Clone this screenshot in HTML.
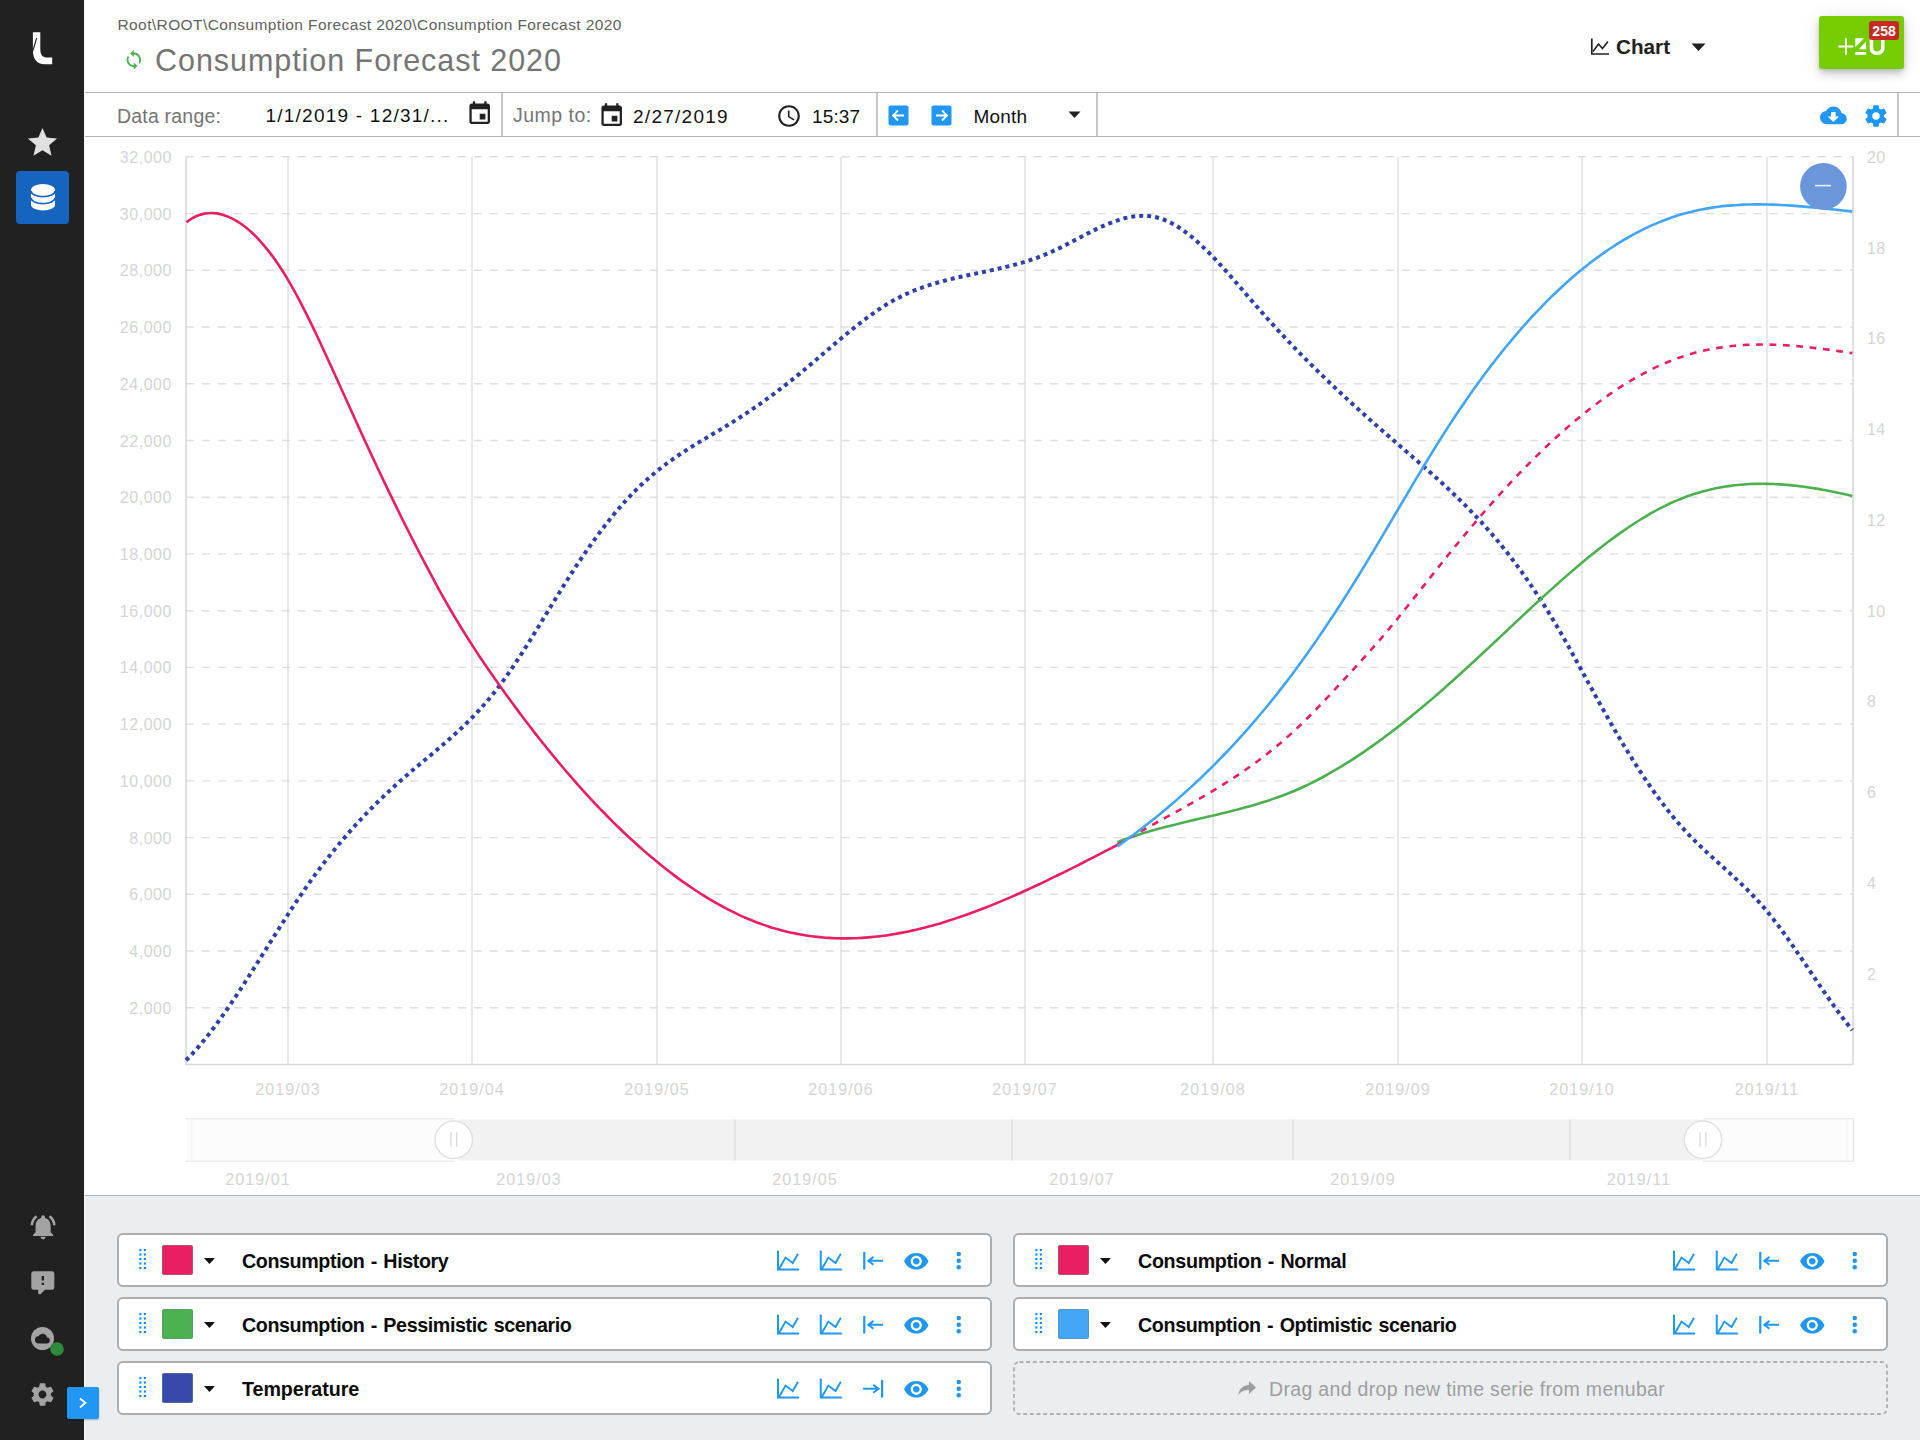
<!DOCTYPE html>
<html><head><meta charset="utf-8"><title>Consumption Forecast 2020</title>
<style>
*{box-sizing:border-box;margin:0;padding:0}
html,body{width:1920px;height:1440px;overflow:hidden;background:#fff;font-family:"Liberation Sans",sans-serif;}
.abs{position:absolute}
#side{position:absolute;left:0;top:0;width:84px;height:1440px;background:#212121}
#head{position:absolute;left:85px;top:0;width:1835px;height:93px;border-bottom:1px solid #b4b4b4;background:#fff}
#tool{position:absolute;left:85px;top:93px;width:1835px;height:44px;border-bottom:1px solid #b4b4b4;background:#fff}
#bottom{position:absolute;left:85px;top:1195px;width:1835px;height:245px;background:#eaeef1;border-top:1px solid #b2b2b2}
.t{position:absolute;white-space:nowrap;line-height:1}
.vsep{position:absolute;top:93px;width:2px;height:43px;background:#c8c8c8}
.leg{position:absolute;height:54px;width:875px;background:#fff;border:2px solid #adadad;border-radius:6px}
.lab{position:absolute;left:123px;top:16.7px;font-weight:bold;font-size:19.7px;color:#0a0a0a;white-space:nowrap;line-height:1;word-spacing:1.3px}
.sw{position:absolute;left:43px;top:9.7px;width:30.5px;height:30.5px;border:1px solid rgba(120,140,120,.45);border-radius:2px}
svg{position:absolute;overflow:visible}
</style></head><body>
<div id="side"></div>
<div class="abs" style="left:84px;top:0;width:1px;height:1440px;background:#f4f4f4"></div>
<svg style="left:0;top:0" width="84" height="80" viewBox="0 0 84 80"><path d="M32.900 32.200H40.300V49C40.300 54.500 42.300 57.400 46.500 57.400H52.200V64.300H44.500C37 64.300 32.900 59 32.900 50.500Z" fill="#fff"/><path d="M36.700 38L32.600 51.500" stroke="#212121" stroke-width="1.100"/></svg>
<svg style="left:25.100px;top:124.600px" width="35" height="35" viewBox="0 0 24 24"><path d="M12 17.270L18.180 21l-1.640-7.030L22 9.240l-7.190-.61L12 2 9.190 8.630 2 9.240l5.460 4.730L5.820 21z" fill="#e0e0e0"/></svg>
<div class="abs" style="left:16px;top:170.700px;width:53.200px;height:53.300px;background:#1565c0;border-radius:4px"></div>
<svg style="left:30.700px;top:184.400px" width="24" height="26.500" viewBox="0 0 24 26.500"><path d="M0 5.800V20.700A12 5.800 0 0 0 24 20.700V5.800A12 5.800 0 0 0 0 5.800Z" fill="#fff"/><path d="M0 6.900A12 5.800 0 0 0 24 6.900M0 13.800A12 5.800 0 0 0 24 13.800" fill="none" stroke="#1565c0" stroke-width="1.700"/></svg>
<svg style="left:27.500px;top:1211.700px" width="30.200" height="30.200" viewBox="0 0 24 24"><path d="M7.58 4.08L6.15 2.65C3.75 4.48 2.17 7.300 2.030 10.500h2c.15-2.650 1.510-4.970 3.550-6.420zm12.390 6.420h2c-.15-3.200-1.730-6.020-4.120-7.850l-1.420 1.430c2.020 1.450 3.390 3.770 3.540 6.420zM18 11c0-3.070-1.640-5.640-4.500-6.320V4c0-.83-.67-1.500-1.500-1.500s-1.500.67-1.500 1.500v.68C7.630 5.360 6 7.920 6 11v5l-2 2v1h16v-1l-2-2v-5zm-6 11c.14 0 .27-.1.400-.4.650-.14 1.180-.58 1.440-1.180.1-.24.150-.5.150-.78h-4c.01 1.100.9 2 2.010 2z" fill="#a3a3a3"/></svg>
<svg style="left:29px;top:1268.500px" width="27.600" height="27.600" viewBox="0 0 24 24"><path d="M9 22A1 1 0 0 1 8 21V18H4A2 2 0 0 1 2 16V4C2 2.890 2.900 2 4 2H20A2 2 0 0 1 22 4V16A2 2 0 0 1 20 18H13.900L10.200 21.710C10 21.900 9.750 22 9.500 22H9M13 10V6H11V10H13M13 14V12H11V14H13Z" fill="#a3a3a3"/></svg>
<svg style="left:30.300px;top:1325.600px" width="36" height="32" viewBox="0 0 36 32"><circle cx="12.500" cy="12.500" r="11.500" fill="#a3a3a3"/><path d="M17 11.400a4.600 4.600 0 0 0-8.600-1.200A3.600 3.600 0 0 0 8.800 17.400h7.900a3 3 0 0 0 .3-6z" fill="#212121"/><circle cx="27" cy="23" r="6.800" fill="#2e8b3a"/></svg>
<svg style="left:29.300px;top:1380.500px" width="27" height="27" viewBox="0 0 24 24"><path d="M19.430 12.980c.04-.32.070-.64.070-.98s-.03-.66-.07-.98l2.110-1.650c.19-.15.240-.42.120-.64l-2-3.460c-.12-.22-.39-.3-.61-.22l-2.490 1c-.52-.4-1.080-.73-1.690-.98l-.38-2.650C14.460 2.180 14.250 2 14 2h-4c-.25 0-.46.180-.49.420l-.38 2.650c-.61.250-1.170.59-1.690.98l-2.490-1c-.23-.09-.49 0-.61.220l-2 3.460c-.13.220-.07.490.12.640l2.110 1.650c-.4.320-.7.650-.7.980s.3.660.7.980l-2.110 1.650c-.19.150-.24.420-.12.640l2 3.460c.12.220.39.300.61.220l2.490-1c.52.400 1.080.73 1.690.98l.38 2.650c.3.240.24.420.49.420h4c.25 0 .46-.18.490-.42l.38-2.650c.61-.25 1.170-.59 1.690-.98l2.490 1c.23.090.49 0 .61-.22l2-3.460c.12-.22.070-.49-.12-.64l-2.110-1.650zM12 15.500c-1.930 0-3.500-1.570-3.500-3.500s1.570-3.500 3.500-3.500 3.500 1.570 3.500 3.500-1.570 3.500-3.500 3.500z" fill="#a3a3a3"/></svg>
<div class="abs" style="left:67px;top:1387px;width:31.700px;height:32px;background:#2196f3;border-radius:2px;box-shadow:0 1px 2px rgba(0,0,0,.25);z-index:5"></div>
<svg style="left:67px;top:1387px;z-index:6" width="32" height="32" viewBox="0 0 32 32"><path d="M12.900 11.400l5.500 4.400-5.500 4.600" fill="none" stroke="#fff" stroke-width="1.900"/></svg>
<div id="head"></div>
<div class="t" style="left:117.500px;top:16.500px;font-size:15.500px;color:#616161;letter-spacing:.4px">Root\ROOT\Consumption Forecast 2020\Consumption Forecast 2020</div>
<svg style="left:122.600px;top:48.800px" width="21.600" height="21.600" viewBox="0 0 24 24"><path d="M12 4V1L8 5l4 4V6c3.310 0 6 2.690 6 6 0 1.010-.25 1.970-.7 2.800l1.460 1.460C19.540 15.030 20 13.570 20 12c0-4.420-3.580-8-8-8zm0 14c-3.310 0-6-2.690-6-6 0-1.010.25-1.970.7-2.800L5.240 7.740C4.460 8.970 4 10.430 4 12c0 4.420 3.580 8 8 8v3l4-4-4-4v3z" fill="#4caf50"/></svg>
<div class="t" style="left:155px;top:45px;font-size:30.500px;color:#757575;letter-spacing:.95px">Consumption Forecast 2020</div>
<svg style="left:1590px;top:37px" width="20" height="19" viewBox="0 0 20 19"><path d="M1.800 1.500V17H19" fill="none" stroke="#222" stroke-width="1.700"/><path d="M3 14.500L8.500 7l4 4.500L18 4.500" fill="none" stroke="#222" stroke-width="1.600"/></svg>
<div class="t" style="left:1616px;top:37.300px;font-size:20.700px;font-weight:bold;color:#212121">Chart</div>
<svg style="left:1691px;top:43px" width="15" height="9" viewBox="0 0 15 9"><path d="M0.500 0.500H14.500L7.500 8z" fill="#212121"/></svg>
<div class="abs" style="left:1819px;top:16px;width:85px;height:53px;background:#76cc00;border-radius:3px;box-shadow:0 3px 5px -1px rgba(0,0,0,.17),0 6px 10px rgba(0,0,0,.11),0 1px 18px rgba(0,0,0,.1)"></div>
<svg style="left:1819px;top:16px" width="85" height="53" viewBox="0 0 85 53"><path d="M19.400 30.500H34.400M26.900 22.200V38.800" stroke="#fff" stroke-width="1.900"/><path d="M36.300 22.200H44.900L36.300 31.100ZM47.100 25.500V33.300H39.900ZM36.300 36H47.100V38.800H36.300Z" fill="#fff"/><path d="M50.650 22.200H54.200V31.800C54.200 34.200 55.800 35.400 58.100 35.400S62 34.200 62 31.800V22.200H65.500V32C65.500 36.400 62.500 38.900 58.100 38.900S50.650 36.400 50.650 32Z" fill="#fff"/></svg>
<div class="abs" style="left:1869.300px;top:21.300px;width:29.500px;height:18.700px;background:#c62828;border-radius:3px"></div>
<div class="t" style="left:1869.300px;top:24.200px;width:29.500px;text-align:center;font-size:14px;font-weight:bold;color:#fff">258</div>
<div id="tool"></div>
<div class="t" style="left:117px;top:107px;font-size:19.500px;color:#757575;letter-spacing:.2px">Data range:</div>
<div class="t" style="left:265.500px;top:106px;font-size:19px;color:#111;letter-spacing:1.230px">1/1/2019 - 12/31/...</div>
<svg style="left:466.100px;top:100.200px" width="27.400" height="27.400" viewBox="0 0 24 24"><path d="M19 3h-1V1h-2v2H8V1H6v2H5c-1.110 0-1.990.9-1.990 2L3 19c0 1.100.89 2 2 2h14c1.100 0 2-.9 2-2V5c0-1.100-.9-2-2-2zm0 16H5V8h14v11zm-7-7h5v5h-5z" fill="#212121"/></svg>
<div class="vsep" style="left:501px"></div>
<div class="t" style="left:513px;top:105.700px;font-size:19.500px;color:#757575;letter-spacing:.5px">Jump to:</div>
<svg style="left:598.200px;top:101.500px" width="27.400" height="27.400" viewBox="0 0 24 24"><path d="M19 3h-1V1h-2v2H8V1H6v2H5c-1.110 0-1.990.9-1.990 2L3 19c0 1.100.89 2 2 2h14c1.100 0 2-.9 2-2V5c0-1.100-.9-2-2-2zm0 16H5V8h14v11zm-7-7h5v5h-5z" fill="#212121"/></svg>
<div class="t" style="left:633px;top:107px;font-size:19px;color:#111;letter-spacing:1.270px">2/27/2019</div>
<svg style="left:776px;top:102.500px" width="26" height="26" viewBox="0 0 24 24"><path d="M11.990 2C6.470 2 2 6.480 2 12s4.470 10 9.990 10C17.520 22 22 17.520 22 12S17.520 2 11.990 2zM12 20c-4.420 0-8-3.580-8-8s3.580-8 8-8 8 3.580 8 8-3.580 8-8 8zm.5-13H11v6l5.250 3.150.75-1.230-4.500-2.670z" fill="#212121"/></svg>
<div class="t" style="left:812px;top:107px;font-size:19px;color:#111;letter-spacing:.15px">15:37</div>
<div class="vsep" style="left:876px"></div>
<svg style="left:888px;top:104.700px" width="21" height="21" viewBox="0 0 21 21"><rect x=".5" y=".5" width="20" height="20" rx="2" fill="#2196f3"/><path d="M16 10.500H5.500M10 5.500l-5 5 5 5" fill="none" stroke="#fff" stroke-width="1.800"/></svg>
<svg style="left:931px;top:104.700px" width="21" height="21" viewBox="0 0 21 21"><rect x=".5" y=".5" width="20" height="20" rx="2" fill="#2196f3"/><path d="M16 10.500H5.500M10 5.500l-5 5 5 5" fill="none" stroke="#fff" stroke-width="1.800" transform="translate(21,0) scale(-1,1)"/></svg>
<div class="t" style="left:973.500px;top:107px;font-size:19px;color:#111;letter-spacing:.2px">Month</div>
<svg style="left:1068px;top:111px" width="13" height="8" viewBox="0 0 13 8"><path d="M0.500 0.500H12.500L6.500 7z" fill="#212121"/></svg>
<div class="vsep" style="left:1096px"></div>
<svg style="left:1820px;top:102.100px" width="26.750" height="26.750" viewBox="0 0 24 24"><path d="M19.350 10.040C18.670 6.590 15.640 4 12 4 9.110 4 6.600 5.640 5.350 8.040 2.340 8.360 0 10.910 0 14c0 3.310 2.690 6 6 6h13c2.760 0 5-2.240 5-5 0-2.640-2.050-4.780-4.650-4.960zM17 13l-5 5-5-5h3V9h4v4h3z" fill="#2196f3"/></svg>
<svg style="left:1863px;top:102.500px" width="26" height="26" viewBox="0 0 24 24"><path d="M19.430 12.980c.04-.32.070-.64.070-.98s-.03-.66-.07-.98l2.110-1.650c.19-.15.240-.42.120-.64l-2-3.460c-.12-.22-.39-.3-.61-.22l-2.490 1c-.52-.4-1.080-.73-1.690-.98l-.38-2.650C14.460 2.180 14.250 2 14 2h-4c-.25 0-.46.180-.49.420l-.38 2.650c-.61.250-1.170.59-1.690.98l-2.490-1c-.23-.09-.49 0-.61.220l-2 3.460c-.13.220-.07.490.12.640l2.110 1.650c-.4.320-.7.650-.7.980s.3.660.7.980l-2.110 1.650c-.19.150-.24.420-.12.640l2 3.460c.12.220.39.300.61.220l2.490-1c.52.400 1.080.73 1.690.98l.38 2.650c.3.240.24.420.49.420h4c.25 0 .46-.18.490-.42l.38-2.650c.61-.25 1.170-.59 1.690-.98l2.490 1c.23.090.49 0 .61-.22l2-3.460c.12-.22.070-.49-.12-.64l-2.110-1.650zM12 15.500c-1.930 0-3.500-1.570-3.500-3.500s1.570-3.500 3.500-3.500 3.500 1.570 3.500 3.500-1.570 3.500-3.500 3.500z" fill="#2196f3"/></svg>
<div class="vsep" style="left:1897px"></div>
<svg id="chart" style="left:0;top:0" width="1920" height="1194" viewBox="0 0 1920 1194">
<line x1="186" x2="1853" y1="1007.8" y2="1007.8" stroke="#dedede" stroke-width="1.4" stroke-dasharray="8 8"/>
<line x1="186" x2="1853" y1="951.0" y2="951.0" stroke="#dedede" stroke-width="1.4" stroke-dasharray="8 8"/>
<line x1="186" x2="1853" y1="894.3" y2="894.3" stroke="#dedede" stroke-width="1.4" stroke-dasharray="8 8"/>
<line x1="186" x2="1853" y1="837.6" y2="837.6" stroke="#dedede" stroke-width="1.4" stroke-dasharray="8 8"/>
<line x1="186" x2="1853" y1="780.9" y2="780.9" stroke="#dedede" stroke-width="1.4" stroke-dasharray="8 8"/>
<line x1="186" x2="1853" y1="724.1" y2="724.1" stroke="#dedede" stroke-width="1.4" stroke-dasharray="8 8"/>
<line x1="186" x2="1853" y1="667.4" y2="667.4" stroke="#dedede" stroke-width="1.4" stroke-dasharray="8 8"/>
<line x1="186" x2="1853" y1="610.7" y2="610.7" stroke="#dedede" stroke-width="1.4" stroke-dasharray="8 8"/>
<line x1="186" x2="1853" y1="553.9" y2="553.9" stroke="#dedede" stroke-width="1.4" stroke-dasharray="8 8"/>
<line x1="186" x2="1853" y1="497.2" y2="497.2" stroke="#dedede" stroke-width="1.4" stroke-dasharray="8 8"/>
<line x1="186" x2="1853" y1="440.5" y2="440.5" stroke="#dedede" stroke-width="1.4" stroke-dasharray="8 8"/>
<line x1="186" x2="1853" y1="383.7" y2="383.7" stroke="#dedede" stroke-width="1.4" stroke-dasharray="8 8"/>
<line x1="186" x2="1853" y1="327.0" y2="327.0" stroke="#dedede" stroke-width="1.4" stroke-dasharray="8 8"/>
<line x1="186" x2="1853" y1="270.3" y2="270.3" stroke="#dedede" stroke-width="1.4" stroke-dasharray="8 8"/>
<line x1="186" x2="1853" y1="213.6" y2="213.6" stroke="#dedede" stroke-width="1.4" stroke-dasharray="8 8"/>
<line x1="186" x2="1853" y1="156.8" y2="156.8" stroke="#dedede" stroke-width="1.4" stroke-dasharray="8 8"/>
<line x1="288" x2="288" y1="157" y2="1064" stroke="#dedede" stroke-width="1.4"/>
<line x1="472" x2="472" y1="157" y2="1064" stroke="#dedede" stroke-width="1.4"/>
<line x1="657" x2="657" y1="157" y2="1064" stroke="#dedede" stroke-width="1.4"/>
<line x1="841" x2="841" y1="157" y2="1064" stroke="#dedede" stroke-width="1.4"/>
<line x1="1025" x2="1025" y1="157" y2="1064" stroke="#dedede" stroke-width="1.4"/>
<line x1="1213" x2="1213" y1="157" y2="1064" stroke="#dedede" stroke-width="1.4"/>
<line x1="1398" x2="1398" y1="157" y2="1064" stroke="#dedede" stroke-width="1.4"/>
<line x1="1582" x2="1582" y1="157" y2="1064" stroke="#dedede" stroke-width="1.4"/>
<line x1="1767" x2="1767" y1="157" y2="1064" stroke="#dedede" stroke-width="1.4"/>
<path d="M186 157V1064.5H1853V157" fill="none" stroke="#d9d9d9" stroke-width="1.6"/>
<path d="M186.00 1060.28C188.01 1058.31 190.01 1056.25 192.02 1054.11C194.02 1051.96 196.03 1049.73 198.03 1047.43C200.04 1045.12 202.04 1042.73 204.05 1040.27C206.05 1037.81 208.06 1035.28 210.06 1032.69C212.07 1030.09 214.07 1027.43 216.08 1024.71C218.08 1021.99 220.09 1019.22 222.09 1016.39C224.10 1013.57 226.10 1010.69 228.11 1007.77C230.11 1004.85 232.12 1001.89 234.12 998.88C236.13 995.88 238.13 992.85 240.14 989.78C242.14 986.71 244.15 983.61 246.16 980.49C248.16 977.37 250.17 974.23 252.17 971.07C254.18 967.91 256.18 964.74 258.19 961.56C260.19 958.37 262.20 955.18 264.20 951.99C266.21 948.80 268.21 945.60 270.22 942.41C272.22 939.22 274.23 936.04 276.23 932.86C278.24 929.69 280.24 926.53 282.25 923.39C284.25 920.25 286.26 917.12 288.26 914.03C290.27 910.93 292.27 907.86 294.28 904.82C296.28 901.79 298.29 898.78 300.29 895.82C302.30 892.85 304.31 889.93 306.31 887.05C308.32 884.18 310.32 881.35 312.33 878.57C314.33 875.78 316.34 873.05 318.34 870.35C320.35 867.66 322.35 865.01 324.36 862.41C326.36 859.80 328.37 857.24 330.37 854.72C332.38 852.20 334.38 849.72 336.39 847.28C338.39 844.83 340.40 842.43 342.40 840.07C344.41 837.71 346.41 835.38 348.42 833.09C350.42 830.80 352.43 828.55 354.43 826.33C356.44 824.12 358.45 821.93 360.45 819.78C362.46 817.63 364.46 815.52 366.47 813.43C368.47 811.35 370.48 809.29 372.48 807.27C374.49 805.24 376.49 803.25 378.50 801.28C380.50 799.32 382.51 797.38 384.51 795.47C386.52 793.56 388.52 791.68 390.53 789.82C392.53 787.96 394.54 786.12 396.54 784.31C398.55 782.50 400.55 780.72 402.56 778.95C404.56 777.18 406.57 775.44 408.57 773.72C410.58 771.99 412.58 770.29 414.59 768.60C416.60 766.90 418.60 765.22 420.61 763.55C422.61 761.87 424.62 760.20 426.62 758.53C428.63 756.86 430.63 755.19 432.64 753.51C434.64 751.83 436.65 750.14 438.65 748.44C440.66 746.74 442.66 745.03 444.67 743.29C446.67 741.55 448.68 739.80 450.68 738.01C452.69 736.23 454.69 734.42 456.70 732.58C458.70 730.73 460.71 728.85 462.71 726.94C464.72 725.02 466.72 723.06 468.73 721.05C470.73 719.05 472.74 717.00 474.75 714.89C476.75 712.78 478.76 710.63 480.76 708.41C482.77 706.19 484.77 703.91 486.78 701.56C488.78 699.22 490.79 696.81 492.79 694.32C494.80 691.84 496.80 689.28 498.81 686.64C500.81 684.00 502.82 681.28 504.82 678.49C506.83 675.70 508.83 672.84 510.84 669.91C512.84 666.98 514.85 663.99 516.85 660.96C518.86 657.92 520.86 654.83 522.87 651.69C524.87 648.56 526.88 645.39 528.88 642.19C530.89 638.99 532.90 635.75 534.90 632.50C536.91 629.25 538.91 625.98 540.92 622.70C542.92 619.42 544.93 616.13 546.93 612.84C548.94 609.55 550.94 606.27 552.95 602.99C554.95 599.72 556.96 596.46 558.96 593.22C560.97 589.98 562.97 586.76 564.98 583.58C566.98 580.39 568.99 577.24 570.99 574.13C573.00 571.02 575.00 567.95 577.01 564.92C579.01 561.89 581.02 558.90 583.02 555.95C585.03 553.01 587.03 550.10 589.04 547.24C591.05 544.39 593.05 541.58 595.06 538.81C597.06 536.05 599.07 533.34 601.07 530.67C603.08 528.01 605.08 525.40 607.09 522.84C609.09 520.28 611.10 517.78 613.10 515.33C615.11 512.89 617.11 510.49 619.12 508.16C621.12 505.83 623.13 503.56 625.13 501.35C627.14 499.14 629.14 496.99 631.15 494.90C633.15 492.82 635.16 490.79 637.16 488.82C639.17 486.85 641.17 484.94 643.18 483.08C645.18 481.22 647.19 479.42 649.20 477.67C651.20 475.91 653.21 474.21 655.21 472.56C657.22 470.91 659.22 469.31 661.23 467.75C663.23 466.19 665.24 464.67 667.24 463.20C669.25 461.72 671.25 460.28 673.26 458.88C675.26 457.47 677.27 456.10 679.27 454.76C681.28 453.42 683.28 452.10 685.29 450.81C687.29 449.52 689.30 448.25 691.30 447.00C693.31 445.75 695.31 444.52 697.32 443.30C699.32 442.08 701.33 440.87 703.34 439.67C705.34 438.47 707.35 437.28 709.35 436.09C711.36 434.90 713.36 433.71 715.37 432.52C717.37 431.33 719.38 430.14 721.38 428.93C723.39 427.73 725.39 426.52 727.40 425.30C729.40 424.08 731.41 422.84 733.41 421.59C735.42 420.34 737.42 419.07 739.43 417.77C741.43 416.48 743.44 415.18 745.44 413.85C747.45 412.52 749.45 411.18 751.46 409.82C753.46 408.45 755.47 407.07 757.47 405.67C759.48 404.28 761.49 402.86 763.49 401.42C765.50 399.99 767.50 398.54 769.51 397.07C771.51 395.60 773.52 394.11 775.52 392.60C777.53 391.09 779.53 389.57 781.54 388.03C783.54 386.49 785.55 384.93 787.55 383.35C789.56 381.77 791.56 380.18 793.57 378.57C795.57 376.95 797.58 375.32 799.58 373.68C801.59 372.03 803.59 370.36 805.60 368.69C807.60 367.01 809.61 365.31 811.61 363.61C813.62 361.91 815.62 360.20 817.63 358.49C819.64 356.77 821.64 355.05 823.65 353.34C825.65 351.62 827.66 349.90 829.66 348.18C831.67 346.47 833.67 344.76 835.68 343.06C837.68 341.36 839.69 339.66 841.69 337.98C843.70 336.31 845.70 334.64 847.71 332.99C849.71 331.34 851.72 329.71 853.72 328.11C855.73 326.50 857.73 324.91 859.74 323.35C861.74 321.79 863.75 320.26 865.75 318.76C867.76 317.26 869.76 315.79 871.77 314.36C873.77 312.92 875.78 311.52 877.79 310.16C879.79 308.81 881.80 307.49 883.80 306.21C885.81 304.94 887.81 303.71 889.82 302.53C891.82 301.35 893.83 300.22 895.83 299.14C897.84 298.06 899.84 297.03 901.85 296.04C903.85 295.06 905.86 294.12 907.86 293.23C909.87 292.33 911.87 291.48 913.88 290.66C915.88 289.85 917.89 289.07 919.89 288.33C921.90 287.59 923.90 286.88 925.91 286.21C927.91 285.53 929.92 284.88 931.92 284.26C933.93 283.64 935.94 283.05 937.94 282.48C939.95 281.91 941.95 281.37 943.96 280.84C945.96 280.31 947.97 279.80 949.97 279.31C951.98 278.82 953.98 278.34 955.99 277.88C957.99 277.41 960.00 276.96 962.00 276.52C964.01 276.07 966.01 275.64 968.02 275.21C970.02 274.78 972.03 274.36 974.03 273.93C976.04 273.51 978.04 273.10 980.05 272.68C982.05 272.26 984.06 271.84 986.06 271.41C988.07 270.99 990.07 270.56 992.08 270.12C994.09 269.69 996.09 269.24 998.10 268.79C1000.10 268.33 1002.11 267.87 1004.11 267.39C1006.12 266.91 1008.12 266.42 1010.13 265.91C1012.13 265.40 1014.14 264.87 1016.14 264.32C1018.15 263.77 1020.15 263.20 1022.16 262.61C1024.16 262.02 1026.17 261.40 1028.17 260.76C1030.18 260.11 1032.18 259.44 1034.19 258.74C1036.19 258.04 1038.20 257.31 1040.20 256.54C1042.21 255.78 1044.21 254.98 1046.22 254.14C1048.23 253.30 1050.23 252.43 1052.24 251.52C1054.24 250.60 1056.25 249.65 1058.25 248.68C1060.26 247.70 1062.26 246.70 1064.27 245.68C1066.27 244.66 1068.28 243.62 1070.28 242.57C1072.29 241.52 1074.29 240.46 1076.30 239.41C1078.30 238.35 1080.31 237.29 1082.31 236.23C1084.32 235.18 1086.32 234.14 1088.33 233.11C1090.33 232.08 1092.34 231.07 1094.34 230.09C1096.35 229.10 1098.35 228.14 1100.36 227.22C1102.36 226.29 1104.37 225.40 1106.38 224.55C1108.38 223.70 1110.39 222.90 1112.39 222.14C1114.40 221.39 1116.40 220.69 1118.41 220.05C1120.41 219.41 1122.42 218.82 1124.42 218.31C1126.43 217.80 1128.43 217.36 1130.44 217.00C1132.44 216.63 1134.45 216.34 1136.45 216.15C1138.46 215.95 1140.46 215.83 1142.47 215.82C1144.47 215.80 1146.48 215.88 1148.48 216.06C1150.49 216.24 1152.49 216.53 1154.50 216.93C1156.50 217.33 1158.51 217.84 1160.51 218.48C1162.52 219.11 1164.53 219.87 1166.53 220.74C1168.54 221.61 1170.54 222.58 1172.55 223.67C1174.55 224.75 1176.56 225.94 1178.56 227.22C1180.57 228.50 1182.57 229.87 1184.58 231.33C1186.58 232.80 1188.59 234.34 1190.59 235.97C1192.60 237.60 1194.60 239.30 1196.61 241.07C1198.61 242.85 1200.62 244.69 1202.62 246.59C1204.63 248.49 1206.63 250.46 1208.64 252.47C1210.64 254.49 1212.65 256.56 1214.65 258.67C1216.66 260.78 1218.66 262.94 1220.67 265.13C1222.68 267.32 1224.68 269.55 1226.69 271.80C1228.69 274.05 1230.70 276.33 1232.70 278.63C1234.71 280.93 1236.71 283.24 1238.72 285.57C1240.72 287.90 1242.73 290.23 1244.73 292.57C1246.74 294.90 1248.74 297.24 1250.75 299.57C1252.75 301.90 1254.76 304.23 1256.76 306.53C1258.77 308.84 1260.77 311.13 1262.78 313.40C1264.78 315.67 1266.79 317.92 1268.79 320.15C1270.80 322.38 1272.80 324.59 1274.81 326.78C1276.81 328.97 1278.82 331.14 1280.83 333.30C1282.83 335.45 1284.84 337.59 1286.84 339.71C1288.85 341.83 1290.85 343.93 1292.86 346.02C1294.86 348.10 1296.87 350.17 1298.87 352.23C1300.88 354.28 1302.88 356.32 1304.89 358.35C1306.89 360.37 1308.90 362.38 1310.90 364.37C1312.91 366.37 1314.91 368.35 1316.92 370.31C1318.92 372.28 1320.93 374.24 1322.93 376.18C1324.94 378.12 1326.94 380.04 1328.95 381.96C1330.95 383.88 1332.96 385.78 1334.96 387.67C1336.97 389.57 1338.98 391.45 1340.98 393.32C1342.99 395.19 1344.99 397.05 1347.00 398.90C1349.00 400.75 1351.01 402.60 1353.01 404.43C1355.02 406.26 1357.02 408.08 1359.03 409.90C1361.03 411.71 1363.04 413.52 1365.04 415.32C1367.05 417.12 1369.05 418.91 1371.06 420.69C1373.06 422.48 1375.07 424.26 1377.07 426.03C1379.08 427.80 1381.08 429.57 1383.09 431.33C1385.09 433.09 1387.10 434.84 1389.10 436.59C1391.11 438.34 1393.12 440.09 1395.12 441.83C1397.13 443.57 1399.13 445.31 1401.14 447.05C1403.14 448.78 1405.15 450.52 1407.15 452.25C1409.16 453.99 1411.16 455.72 1413.17 457.46C1415.17 459.20 1417.18 460.95 1419.18 462.70C1421.19 464.45 1423.19 466.20 1425.20 467.97C1427.20 469.74 1429.21 471.51 1431.21 473.30C1433.22 475.09 1435.22 476.89 1437.23 478.70C1439.23 480.52 1441.24 482.35 1443.24 484.20C1445.25 486.05 1447.25 487.91 1449.26 489.80C1451.27 491.69 1453.27 493.60 1455.28 495.53C1457.28 497.46 1459.29 499.42 1461.29 501.40C1463.30 503.38 1465.30 505.39 1467.31 507.43C1469.31 509.46 1471.32 511.53 1473.32 513.63C1475.33 515.73 1477.33 517.86 1479.34 520.03C1481.34 522.20 1483.35 524.40 1485.35 526.64C1487.36 528.88 1489.36 531.15 1491.37 533.47C1493.37 535.79 1495.38 538.15 1497.38 540.55C1499.39 542.95 1501.39 545.40 1503.40 547.89C1505.40 550.39 1507.41 552.92 1509.42 555.51C1511.42 558.10 1513.43 560.74 1515.43 563.42C1517.44 566.11 1519.44 568.84 1521.45 571.62C1523.45 574.41 1525.46 577.24 1527.46 580.13C1529.47 583.01 1531.47 585.95 1533.48 588.94C1535.48 591.92 1537.49 594.96 1539.49 598.05C1541.50 601.15 1543.50 604.29 1545.51 607.49C1547.51 610.68 1549.52 613.93 1551.52 617.24C1553.53 620.54 1555.53 623.90 1557.54 627.31C1559.54 630.73 1561.55 634.20 1563.55 637.71C1565.56 641.23 1567.57 644.80 1569.57 648.40C1571.58 652.00 1573.58 655.64 1575.59 659.29C1577.59 662.95 1579.60 666.63 1581.60 670.32C1583.61 674.00 1585.61 677.70 1587.62 681.39C1589.62 685.08 1591.63 688.77 1593.63 692.44C1595.64 696.11 1597.64 699.76 1599.65 703.38C1601.65 707.00 1603.66 710.59 1605.66 714.15C1607.67 717.70 1609.67 721.23 1611.68 724.71C1613.68 728.20 1615.69 731.65 1617.69 735.06C1619.70 738.47 1621.70 741.84 1623.71 745.17C1625.72 748.49 1627.72 751.78 1629.73 755.02C1631.73 758.26 1633.74 761.45 1635.74 764.60C1637.75 767.74 1639.75 770.84 1641.76 773.89C1643.76 776.94 1645.77 779.93 1647.77 782.87C1649.78 785.81 1651.78 788.70 1653.79 791.53C1655.79 794.36 1657.80 797.13 1659.80 799.85C1661.81 802.56 1663.81 805.21 1665.82 807.80C1667.82 810.40 1669.83 812.92 1671.83 815.39C1673.84 817.85 1675.84 820.24 1677.85 822.57C1679.85 824.90 1681.86 827.16 1683.87 829.35C1685.87 831.55 1687.88 833.68 1689.88 835.76C1691.89 837.83 1693.89 839.86 1695.90 841.84C1697.90 843.82 1699.91 845.77 1701.91 847.67C1703.92 849.58 1705.92 851.46 1707.93 853.31C1709.93 855.17 1711.94 857.00 1713.94 858.82C1715.95 860.64 1717.95 862.45 1719.96 864.26C1721.96 866.06 1723.97 867.87 1725.97 869.69C1727.98 871.50 1729.98 873.32 1731.99 875.17C1733.99 877.01 1736.00 878.87 1738.01 880.76C1740.01 882.65 1742.02 884.58 1744.02 886.54C1746.03 888.50 1748.03 890.50 1750.04 892.55C1752.04 894.60 1754.05 896.70 1756.05 898.86C1758.06 901.02 1760.06 903.24 1762.07 905.53C1764.07 907.82 1766.08 910.18 1768.08 912.62C1770.09 915.06 1772.09 917.58 1774.10 920.16C1776.10 922.74 1778.11 925.39 1780.11 928.09C1782.12 930.79 1784.12 933.54 1786.13 936.34C1788.13 939.14 1790.14 941.98 1792.14 944.86C1794.15 947.73 1796.16 950.64 1798.16 953.57C1800.17 956.50 1802.17 959.45 1804.18 962.42C1806.18 965.38 1808.19 968.36 1810.19 971.33C1812.20 974.31 1814.20 977.28 1816.21 980.25C1818.21 983.21 1820.22 986.17 1822.22 989.11C1824.23 992.04 1826.23 994.95 1828.24 997.84C1830.24 1000.72 1832.25 1003.57 1834.25 1006.38C1836.26 1009.19 1838.26 1011.95 1840.27 1014.67C1842.27 1017.38 1844.28 1020.04 1846.28 1022.64C1848.29 1025.23 1850.29 1027.76 1852.30 1030.22" fill="none" stroke="#3040a6" stroke-width="4" stroke-dasharray="4 4"/>
<path d="M186.50 222.12C188.50 220.57 190.50 219.23 192.51 218.10C194.51 216.96 196.51 216.03 198.51 215.29C200.51 214.54 202.51 213.99 204.52 213.61C206.52 213.24 208.52 213.04 210.52 213.00C212.52 212.97 214.52 213.10 216.53 213.39C218.53 213.67 220.53 214.12 222.53 214.70C224.53 215.28 226.53 216.01 228.54 216.86C230.54 217.72 232.54 218.70 234.54 219.81C236.54 220.93 238.54 222.16 240.55 223.53C242.55 224.90 244.55 226.39 246.55 228.01C248.55 229.64 250.56 231.39 252.56 233.26C254.56 235.14 256.56 237.15 258.56 239.28C260.56 241.41 262.57 243.67 264.57 246.06C266.57 248.44 268.57 250.96 270.57 253.60C272.57 256.24 274.58 259.01 276.58 261.91C278.58 264.80 280.58 267.83 282.58 270.98C284.58 274.13 286.59 277.41 288.59 280.81C290.59 284.22 292.59 287.75 294.59 291.39C296.59 295.03 298.60 298.78 300.60 302.62C302.60 306.46 304.60 310.40 306.60 314.41C308.60 318.42 310.61 322.51 312.61 326.67C314.61 330.82 316.61 335.03 318.61 339.29C320.62 343.55 322.62 347.85 324.62 352.19C326.62 356.52 328.62 360.88 330.62 365.26C332.63 369.64 334.63 374.05 336.63 378.46C338.63 382.87 340.63 387.30 342.63 391.73C344.64 396.16 346.64 400.60 348.64 405.03C350.64 409.46 352.64 413.88 354.64 418.30C356.65 422.71 358.65 427.12 360.65 431.50C362.65 435.88 364.65 440.25 366.65 444.58C368.66 448.92 370.66 453.23 372.66 457.51C374.66 461.80 376.66 466.06 378.67 470.29C380.67 474.52 382.67 478.73 384.67 482.91C386.67 487.09 388.67 491.24 390.68 495.37C392.68 499.50 394.68 503.60 396.68 507.67C398.68 511.74 400.68 515.79 402.69 519.81C404.69 523.83 406.69 527.82 408.69 531.79C410.69 535.75 412.69 539.69 414.70 543.60C416.70 547.51 418.70 551.39 420.70 555.24C422.70 559.10 424.70 562.92 426.71 566.71C428.71 570.50 430.71 574.26 432.71 577.98C434.71 581.70 436.72 585.37 438.72 589.01C440.72 592.64 442.72 596.23 444.72 599.77C446.72 603.31 448.73 606.80 450.73 610.24C452.73 613.67 454.73 617.05 456.73 620.38C458.73 623.71 460.74 626.99 462.74 630.22C464.74 633.45 466.74 636.64 468.74 639.78C470.74 642.92 472.75 646.02 474.75 649.09C476.75 652.15 478.75 655.18 480.75 658.17C482.75 661.16 484.76 664.11 486.76 667.04C488.76 669.97 490.76 672.87 492.76 675.74C494.76 678.61 496.77 681.46 498.77 684.28C500.77 687.11 502.77 689.91 504.77 692.69C506.78 695.48 508.78 698.24 510.78 700.98C512.78 703.72 514.78 706.44 516.78 709.14C518.79 711.83 520.79 714.51 522.79 717.17C524.79 719.82 526.79 722.45 528.79 725.07C530.80 727.68 532.80 730.27 534.80 732.84C536.80 735.41 538.80 737.95 540.80 740.48C542.81 743.00 544.81 745.51 546.81 747.99C548.81 750.47 550.81 752.93 552.81 755.37C554.82 757.81 556.82 760.22 558.82 762.62C560.82 765.01 562.82 767.38 564.83 769.73C566.83 772.08 568.83 774.41 570.83 776.71C572.83 779.02 574.83 781.30 576.84 783.56C578.84 785.82 580.84 788.06 582.84 790.28C584.84 792.49 586.84 794.68 588.85 796.85C590.85 799.02 592.85 801.17 594.85 803.30C596.85 805.42 598.85 807.53 600.86 809.60C602.86 811.68 604.86 813.74 606.86 815.77C608.86 817.81 610.86 819.82 612.87 821.81C614.87 823.79 616.87 825.76 618.87 827.70C620.87 829.64 622.88 831.56 624.88 833.46C626.88 835.35 628.88 837.22 630.88 839.07C632.88 840.92 634.89 842.75 636.89 844.55C638.89 846.35 640.89 848.13 642.89 849.88C644.89 851.64 646.90 853.37 648.90 855.08C650.90 856.78 652.90 858.47 654.90 860.12C656.90 861.78 658.91 863.42 660.91 865.03C662.91 866.63 664.91 868.22 666.91 869.78C668.91 871.34 670.92 872.87 672.92 874.38C674.92 875.90 676.92 877.38 678.92 878.84C680.92 880.30 682.93 881.73 684.93 883.14C686.93 884.55 688.93 885.94 690.93 887.29C692.94 888.65 694.94 889.98 696.94 891.29C698.94 892.60 700.94 893.88 702.94 895.13C704.95 896.38 706.95 897.61 708.95 898.81C710.95 900.01 712.95 901.19 714.95 902.34C716.96 903.48 718.96 904.60 720.96 905.70C722.96 906.79 724.96 907.86 726.96 908.90C728.97 909.94 730.97 910.95 732.97 911.94C734.97 912.92 736.97 913.88 738.97 914.81C740.98 915.74 742.98 916.64 744.98 917.51C746.98 918.39 748.98 919.23 750.99 920.05C752.99 920.87 754.99 921.66 756.99 922.42C758.99 923.18 760.99 923.91 763.00 924.62C765.00 925.32 767.00 926.00 769.00 926.64C771.00 927.29 773.00 927.91 775.01 928.50C777.01 929.09 779.01 929.65 781.01 930.18C783.01 930.71 785.01 931.22 787.02 931.70C789.02 932.18 791.02 932.63 793.02 933.05C795.02 933.48 797.02 933.88 799.03 934.25C801.03 934.62 803.03 934.97 805.03 935.29C807.03 935.61 809.04 935.90 811.04 936.17C813.04 936.44 815.04 936.68 817.04 936.90C819.04 937.12 821.05 937.31 823.05 937.48C825.05 937.65 827.05 937.80 829.05 937.92C831.05 938.04 833.06 938.14 835.06 938.21C837.06 938.29 839.06 938.34 841.06 938.37C843.06 938.40 845.07 938.40 847.07 938.39C849.07 938.37 851.07 938.33 853.07 938.27C855.07 938.21 857.08 938.13 859.08 938.02C861.08 937.92 863.08 937.79 865.08 937.65C867.08 937.50 869.09 937.33 871.09 937.15C873.09 936.96 875.09 936.75 877.09 936.52C879.10 936.30 881.10 936.05 883.10 935.78C885.10 935.51 887.10 935.23 889.10 934.92C891.11 934.62 893.11 934.29 895.11 933.95C897.11 933.61 899.11 933.25 901.11 932.87C903.12 932.49 905.12 932.09 907.12 931.68C909.12 931.26 911.12 930.83 913.12 930.38C915.13 929.93 917.13 929.47 919.13 928.98C921.13 928.50 923.13 928.00 925.13 927.49C927.14 926.97 929.14 926.44 931.14 925.90C933.14 925.35 935.14 924.79 937.15 924.21C939.15 923.64 941.15 923.05 943.15 922.44C945.15 921.83 947.15 921.21 949.16 920.58C951.16 919.94 953.16 919.29 955.16 918.63C957.16 917.97 959.16 917.29 961.17 916.60C963.17 915.92 965.17 915.21 967.17 914.50C969.17 913.79 971.17 913.06 973.18 912.32C975.18 911.58 977.18 910.83 979.18 910.07C981.18 909.30 983.18 908.53 985.19 907.74C987.19 906.96 989.19 906.16 991.19 905.35C993.19 904.55 995.20 903.73 997.20 902.90C999.20 902.07 1001.20 901.24 1003.20 900.39C1005.20 899.54 1007.21 898.68 1009.21 897.82C1011.21 896.95 1013.21 896.07 1015.21 895.19C1017.21 894.31 1019.22 893.41 1021.22 892.51C1023.22 891.61 1025.22 890.70 1027.22 889.79C1029.22 888.87 1031.23 887.94 1033.23 887.01C1035.23 886.08 1037.23 885.14 1039.23 884.20C1041.23 883.25 1043.24 882.30 1045.24 881.34C1047.24 880.38 1049.24 879.42 1051.24 878.45C1053.24 877.48 1055.25 876.50 1057.25 875.52C1059.25 874.54 1061.25 873.55 1063.25 872.56C1065.26 871.57 1067.26 870.57 1069.26 869.57C1071.26 868.57 1073.26 867.56 1075.26 866.56C1077.27 865.55 1079.27 864.54 1081.27 863.52C1083.27 862.50 1085.27 861.49 1087.27 860.46C1089.28 859.44 1091.28 858.42 1093.28 857.39C1095.28 856.36 1097.28 855.34 1099.28 854.30C1101.29 853.27 1103.29 852.24 1105.29 851.21C1107.29 850.17 1109.29 849.14 1111.29 848.10C1113.30 847.07 1115.30 846.03 1117.30 844.99" fill="none" stroke="#e91e63" stroke-width="2.6"/>
<path d="M1117.30 842.09C1119.31 841.31 1121.32 840.56 1123.32 839.83C1125.33 839.10 1127.34 838.39 1129.35 837.69C1131.36 837.00 1133.37 836.33 1135.37 835.67C1137.38 835.02 1139.39 834.38 1141.40 833.76C1143.41 833.14 1145.41 832.53 1147.42 831.94C1149.43 831.34 1151.44 830.76 1153.45 830.20C1155.46 829.63 1157.46 829.08 1159.47 828.54C1161.48 827.99 1163.49 827.46 1165.50 826.94C1167.50 826.42 1169.51 825.91 1171.52 825.40C1173.53 824.90 1175.54 824.40 1177.55 823.91C1179.55 823.42 1181.56 822.93 1183.57 822.45C1185.58 821.97 1187.59 821.50 1189.60 821.02C1191.60 820.55 1193.61 820.08 1195.62 819.61C1197.63 819.15 1199.64 818.68 1201.64 818.21C1203.65 817.75 1205.66 817.28 1207.67 816.81C1209.68 816.34 1211.69 815.87 1213.69 815.40C1215.70 814.93 1217.71 814.45 1219.72 813.97C1221.73 813.49 1223.73 813.00 1225.74 812.51C1227.75 812.01 1229.76 811.51 1231.77 811.01C1233.78 810.50 1235.78 809.98 1237.79 809.46C1239.80 808.93 1241.81 808.40 1243.82 807.85C1245.82 807.31 1247.83 806.75 1249.84 806.18C1251.85 805.61 1253.86 805.03 1255.87 804.43C1257.87 803.83 1259.88 803.22 1261.89 802.59C1263.90 801.96 1265.91 801.32 1267.91 800.66C1269.92 800.00 1271.93 799.32 1273.94 798.62C1275.95 797.92 1277.96 797.20 1279.96 796.46C1281.97 795.73 1283.98 794.97 1285.99 794.19C1288.00 793.40 1290.00 792.60 1292.01 791.77C1294.02 790.95 1296.03 790.09 1298.04 789.22C1300.05 788.34 1302.05 787.44 1304.06 786.51C1306.07 785.58 1308.08 784.63 1310.09 783.65C1312.10 782.67 1314.10 781.66 1316.11 780.63C1318.12 779.61 1320.13 778.55 1322.14 777.48C1324.14 776.40 1326.15 775.30 1328.16 774.18C1330.17 773.05 1332.18 771.91 1334.19 770.74C1336.19 769.57 1338.20 768.38 1340.21 767.17C1342.22 765.95 1344.23 764.72 1346.23 763.46C1348.24 762.21 1350.25 760.93 1352.26 759.64C1354.27 758.34 1356.28 757.02 1358.28 755.68C1360.29 754.35 1362.30 752.99 1364.31 751.61C1366.32 750.24 1368.32 748.84 1370.33 747.43C1372.34 746.01 1374.35 744.58 1376.36 743.13C1378.37 741.68 1380.37 740.21 1382.38 738.73C1384.39 737.24 1386.40 735.74 1388.41 734.22C1390.41 732.70 1392.42 731.17 1394.43 729.62C1396.44 728.07 1398.45 726.50 1400.46 724.92C1402.46 723.33 1404.47 721.74 1406.48 720.12C1408.49 718.51 1410.50 716.88 1412.50 715.24C1414.51 713.60 1416.52 711.95 1418.53 710.28C1420.54 708.61 1422.55 706.93 1424.55 705.24C1426.56 703.54 1428.57 701.84 1430.58 700.12C1432.59 698.40 1434.60 696.67 1436.60 694.92C1438.61 693.18 1440.62 691.43 1442.63 689.66C1444.64 687.90 1446.64 686.12 1448.65 684.34C1450.66 682.55 1452.67 680.76 1454.68 678.95C1456.69 677.15 1458.69 675.34 1460.70 673.51C1462.71 671.69 1464.72 669.86 1466.73 668.02C1468.73 666.18 1470.74 664.33 1472.75 662.48C1474.76 660.62 1476.77 658.76 1478.78 656.90C1480.78 655.03 1482.79 653.16 1484.80 651.28C1486.81 649.41 1488.82 647.53 1490.82 645.65C1492.83 643.77 1494.84 641.88 1496.85 640.00C1498.86 638.11 1500.87 636.22 1502.87 634.33C1504.88 632.45 1506.89 630.56 1508.90 628.67C1510.91 626.78 1512.91 624.90 1514.92 623.01C1516.93 621.13 1518.94 619.25 1520.95 617.37C1522.96 615.49 1524.96 613.62 1526.97 611.75C1528.98 609.88 1530.99 608.01 1533.00 606.15C1535.00 604.30 1537.01 602.44 1539.02 600.60C1541.03 598.75 1543.04 596.91 1545.05 595.08C1547.05 593.25 1549.06 591.43 1551.07 589.62C1553.08 587.81 1555.09 586.01 1557.10 584.22C1559.10 582.43 1561.11 580.65 1563.12 578.88C1565.13 577.11 1567.14 575.36 1569.14 573.62C1571.15 571.88 1573.16 570.15 1575.17 568.44C1577.18 566.73 1579.19 565.03 1581.19 563.35C1583.20 561.66 1585.21 560.00 1587.22 558.35C1589.23 556.70 1591.23 555.07 1593.24 553.46C1595.25 551.85 1597.26 550.25 1599.27 548.68C1601.28 547.11 1603.28 545.55 1605.29 544.02C1607.30 542.49 1609.31 540.97 1611.32 539.49C1613.32 538.00 1615.33 536.53 1617.34 535.09C1619.35 533.64 1621.36 532.22 1623.37 530.83C1625.37 529.44 1627.38 528.07 1629.39 526.72C1631.40 525.38 1633.41 524.06 1635.41 522.77C1637.42 521.48 1639.43 520.22 1641.44 518.99C1643.45 517.75 1645.46 516.55 1647.46 515.37C1649.47 514.20 1651.48 513.05 1653.49 511.94C1655.50 510.82 1657.50 509.74 1659.51 508.69C1661.52 507.64 1663.53 506.62 1665.54 505.64C1667.55 504.66 1669.55 503.70 1671.56 502.79C1673.57 501.87 1675.58 500.99 1677.59 500.15C1679.60 499.31 1681.60 498.50 1683.61 497.73C1685.62 496.96 1687.63 496.22 1689.64 495.52C1691.64 494.82 1693.65 494.16 1695.66 493.53C1697.67 492.89 1699.68 492.30 1701.69 491.73C1703.69 491.17 1705.70 490.64 1707.71 490.14C1709.72 489.64 1711.73 489.18 1713.73 488.74C1715.74 488.31 1717.75 487.91 1719.76 487.53C1721.77 487.16 1723.78 486.81 1725.78 486.50C1727.79 486.19 1729.80 485.90 1731.81 485.64C1733.82 485.39 1735.82 485.16 1737.83 484.96C1739.84 484.75 1741.85 484.58 1743.86 484.43C1745.87 484.28 1747.87 484.16 1749.88 484.06C1751.89 483.96 1753.90 483.89 1755.91 483.84C1757.91 483.80 1759.92 483.77 1761.93 483.77C1763.94 483.77 1765.95 483.79 1767.96 483.83C1769.96 483.88 1771.97 483.95 1773.98 484.03C1775.99 484.12 1778.00 484.23 1780.00 484.36C1782.01 484.49 1784.02 484.63 1786.03 484.80C1788.04 484.97 1790.05 485.16 1792.05 485.36C1794.06 485.57 1796.07 485.79 1798.08 486.03C1800.09 486.27 1802.10 486.53 1804.10 486.80C1806.11 487.07 1808.12 487.36 1810.13 487.67C1812.14 487.97 1814.14 488.29 1816.15 488.62C1818.16 488.96 1820.17 489.30 1822.18 489.67C1824.19 490.03 1826.19 490.40 1828.20 490.79C1830.21 491.17 1832.22 491.57 1834.23 491.98C1836.23 492.39 1838.24 492.81 1840.25 493.24C1842.26 493.67 1844.27 494.11 1846.28 494.56C1848.28 495.01 1850.29 495.46 1852.30 495.93" fill="none" stroke="#4caf50" stroke-width="2.6"/>
<path d="M1117.30 844.87C1119.31 843.66 1121.32 842.48 1123.32 841.30C1125.33 840.12 1127.34 838.96 1129.35 837.80C1131.36 836.64 1133.37 835.50 1135.37 834.36C1137.38 833.22 1139.39 832.09 1141.40 830.96C1143.41 829.83 1145.41 828.72 1147.42 827.60C1149.43 826.49 1151.44 825.38 1153.45 824.27C1155.46 823.16 1157.46 822.06 1159.47 820.96C1161.48 819.85 1163.49 818.75 1165.50 817.65C1167.50 816.55 1169.51 815.45 1171.52 814.34C1173.53 813.24 1175.54 812.13 1177.55 811.02C1179.55 809.91 1181.56 808.80 1183.57 807.68C1185.58 806.57 1187.59 805.44 1189.60 804.31C1191.60 803.18 1193.61 802.05 1195.62 800.90C1197.63 799.76 1199.64 798.60 1201.64 797.44C1203.65 796.28 1205.66 795.10 1207.67 793.92C1209.68 792.73 1211.69 791.54 1213.69 790.33C1215.70 789.12 1217.71 787.90 1219.72 786.66C1221.73 785.42 1223.73 784.17 1225.74 782.90C1227.75 781.63 1229.76 780.34 1231.77 779.04C1233.78 777.74 1235.78 776.42 1237.79 775.07C1239.80 773.73 1241.81 772.37 1243.82 770.99C1245.82 769.61 1247.83 768.20 1249.84 766.78C1251.85 765.35 1253.86 763.90 1255.87 762.43C1257.87 760.95 1259.88 759.45 1261.89 757.93C1263.90 756.40 1265.91 754.85 1267.91 753.27C1269.92 751.70 1271.93 750.09 1273.94 748.45C1275.95 746.82 1277.96 745.15 1279.96 743.45C1281.97 741.76 1283.98 740.03 1285.99 738.27C1288.00 736.51 1290.00 734.72 1292.01 732.89C1294.02 731.06 1296.03 729.20 1298.04 727.30C1300.05 725.41 1302.05 723.47 1304.06 721.51C1306.07 719.54 1308.08 717.54 1310.09 715.51C1312.10 713.48 1314.10 711.42 1316.11 709.34C1318.12 707.26 1320.13 705.16 1322.14 703.04C1324.14 700.92 1326.15 698.78 1328.16 696.63C1330.17 694.48 1332.18 692.31 1334.19 690.14C1336.19 687.97 1338.20 685.79 1340.21 683.60C1342.22 681.42 1344.23 679.23 1346.23 677.05C1348.24 674.86 1350.25 672.68 1352.26 670.50C1354.27 668.31 1356.28 666.12 1358.28 663.93C1360.29 661.73 1362.30 659.53 1364.31 657.31C1366.32 655.09 1368.32 652.86 1370.33 650.61C1372.34 648.35 1374.35 646.08 1376.36 643.78C1378.37 641.49 1380.37 639.16 1382.38 636.81C1384.39 634.46 1386.40 632.08 1388.41 629.67C1390.41 627.27 1392.42 624.84 1394.43 622.40C1396.44 619.95 1398.45 617.48 1400.46 615.00C1402.46 612.52 1404.47 610.02 1406.48 607.51C1408.49 605.00 1410.50 602.48 1412.50 599.95C1414.51 597.42 1416.52 594.89 1418.53 592.35C1420.54 589.80 1422.55 587.26 1424.55 584.71C1426.56 582.17 1428.57 579.62 1430.58 577.08C1432.59 574.53 1434.60 571.99 1436.60 569.46C1438.61 566.93 1440.62 564.41 1442.63 561.89C1444.64 559.38 1446.64 556.88 1448.65 554.39C1450.66 551.90 1452.67 549.43 1454.68 546.97C1456.69 544.51 1458.69 542.07 1460.70 539.64C1462.71 537.21 1464.72 534.79 1466.73 532.40C1468.73 530.00 1470.74 527.61 1472.75 525.25C1474.76 522.88 1476.77 520.53 1478.78 518.19C1480.78 515.86 1482.79 513.54 1484.80 511.24C1486.81 508.94 1488.82 506.65 1490.82 504.38C1492.83 502.12 1494.84 499.87 1496.85 497.63C1498.86 495.40 1500.87 493.19 1502.87 490.99C1504.88 488.80 1506.89 486.62 1508.90 484.46C1510.91 482.30 1512.91 480.16 1514.92 478.04C1516.93 475.92 1518.94 473.82 1520.95 471.74C1522.96 469.66 1524.96 467.60 1526.97 465.56C1528.98 463.52 1530.99 461.50 1533.00 459.50C1535.00 457.50 1537.01 455.52 1539.02 453.56C1541.03 451.60 1543.04 449.67 1545.05 447.75C1547.05 445.84 1549.06 443.95 1551.07 442.08C1553.08 440.21 1555.09 438.36 1557.10 436.53C1559.10 434.71 1561.11 432.90 1563.12 431.12C1565.13 429.35 1567.14 427.59 1569.14 425.86C1571.15 424.13 1573.16 422.42 1575.17 420.73C1577.18 419.05 1579.19 417.39 1581.19 415.75C1583.20 414.12 1585.21 412.51 1587.22 410.92C1589.23 409.34 1591.23 407.78 1593.24 406.24C1595.25 404.71 1597.26 403.20 1599.27 401.71C1601.28 400.23 1603.28 398.78 1605.29 397.35C1607.30 395.92 1609.31 394.51 1611.32 393.14C1613.32 391.76 1615.33 390.41 1617.34 389.09C1619.35 387.77 1621.36 386.48 1623.37 385.21C1625.37 383.94 1627.38 382.71 1629.39 381.50C1631.40 380.29 1633.41 379.11 1635.41 377.96C1637.42 376.81 1639.43 375.69 1641.44 374.59C1643.45 373.50 1645.46 372.44 1647.46 371.40C1649.47 370.37 1651.48 369.37 1653.49 368.40C1655.50 367.43 1657.50 366.48 1659.51 365.57C1661.52 364.66 1663.53 363.78 1665.54 362.94C1667.55 362.09 1669.55 361.27 1671.56 360.49C1673.57 359.70 1675.58 358.95 1677.59 358.23C1679.60 357.51 1681.60 356.82 1683.61 356.17C1685.62 355.51 1687.63 354.89 1689.64 354.30C1691.64 353.71 1693.65 353.14 1695.66 352.61C1697.67 352.08 1699.68 351.58 1701.69 351.11C1703.69 350.64 1705.70 350.19 1707.71 349.78C1709.72 349.36 1711.73 348.97 1713.73 348.61C1715.74 348.25 1717.75 347.92 1719.76 347.61C1721.77 347.30 1723.78 347.02 1725.78 346.76C1727.79 346.50 1729.80 346.27 1731.81 346.06C1733.82 345.85 1735.82 345.66 1737.83 345.49C1739.84 345.33 1741.85 345.19 1743.86 345.07C1745.87 344.95 1747.87 344.85 1749.88 344.77C1751.89 344.69 1753.90 344.63 1755.91 344.59C1757.91 344.55 1759.92 344.53 1761.93 344.53C1763.94 344.53 1765.95 344.55 1767.96 344.58C1769.96 344.61 1771.97 344.66 1773.98 344.73C1775.99 344.80 1778.00 344.88 1780.00 344.98C1782.01 345.08 1784.02 345.19 1786.03 345.32C1788.04 345.44 1790.05 345.58 1792.05 345.74C1794.06 345.89 1796.07 346.06 1798.08 346.23C1800.09 346.41 1802.10 346.60 1804.10 346.80C1806.11 347.00 1808.12 347.22 1810.13 347.44C1812.14 347.66 1814.14 347.89 1816.15 348.13C1818.16 348.37 1820.17 348.62 1822.18 348.87C1824.19 349.13 1826.19 349.39 1828.20 349.66C1830.21 349.93 1832.22 350.21 1834.23 350.49C1836.23 350.77 1838.24 351.06 1840.25 351.35C1842.26 351.64 1844.27 351.93 1846.28 352.23C1848.28 352.53 1850.29 352.83 1852.30 353.14" fill="none" stroke="#e91e63" stroke-width="2.6" stroke-dasharray="6.7 6.7"/>
<path d="M1117.30 846.44C1119.31 845.02 1121.32 843.59 1123.32 842.15C1125.33 840.70 1127.34 839.24 1129.35 837.77C1131.36 836.29 1133.37 834.80 1135.37 833.30C1137.38 831.79 1139.39 830.27 1141.40 828.73C1143.41 827.19 1145.41 825.63 1147.42 824.06C1149.43 822.49 1151.44 820.90 1153.45 819.29C1155.46 817.69 1157.46 816.06 1159.47 814.42C1161.48 812.77 1163.49 811.11 1165.50 809.43C1167.50 807.75 1169.51 806.06 1171.52 804.34C1173.53 802.62 1175.54 800.89 1177.55 799.13C1179.55 797.37 1181.56 795.60 1183.57 793.80C1185.58 792.01 1187.59 790.19 1189.60 788.36C1191.60 786.52 1193.61 784.66 1195.62 782.79C1197.63 780.91 1199.64 779.01 1201.64 777.09C1203.65 775.17 1205.66 773.23 1207.67 771.27C1209.68 769.30 1211.69 767.32 1213.69 765.31C1215.70 763.30 1217.71 761.27 1219.72 759.21C1221.73 757.16 1223.73 755.08 1225.74 752.98C1227.75 750.88 1229.76 748.76 1231.77 746.61C1233.78 744.46 1235.78 742.29 1237.79 740.09C1239.80 737.89 1241.81 735.67 1243.82 733.43C1245.82 731.18 1247.83 728.91 1249.84 726.61C1251.85 724.31 1253.86 721.99 1255.87 719.64C1257.87 717.29 1259.88 714.92 1261.89 712.52C1263.90 710.12 1265.91 707.69 1267.91 705.23C1269.92 702.78 1271.93 700.30 1273.94 697.79C1275.95 695.28 1277.96 692.74 1279.96 690.17C1281.97 687.61 1283.98 685.02 1285.99 682.39C1288.00 679.77 1290.00 677.12 1292.01 674.44C1294.02 671.76 1296.03 669.05 1298.04 666.32C1300.05 663.58 1302.05 660.81 1304.06 658.01C1306.07 655.21 1308.08 652.39 1310.09 649.53C1312.10 646.68 1314.10 643.79 1316.11 640.88C1318.12 637.97 1320.13 635.03 1322.14 632.07C1324.14 629.10 1326.15 626.11 1328.16 623.09C1330.17 620.07 1332.18 617.03 1334.19 613.96C1336.19 610.89 1338.20 607.80 1340.21 604.68C1342.22 601.56 1344.23 598.41 1346.23 595.24C1348.24 592.08 1350.25 588.89 1352.26 585.67C1354.27 582.46 1356.28 579.22 1358.28 575.96C1360.29 572.70 1362.30 569.42 1364.31 566.12C1366.32 562.81 1368.32 559.49 1370.33 556.15C1372.34 552.81 1374.35 549.45 1376.36 546.08C1378.37 542.71 1380.37 539.33 1382.38 535.94C1384.39 532.54 1386.40 529.14 1388.41 525.74C1390.41 522.33 1392.42 518.92 1394.43 515.51C1396.44 512.10 1398.45 508.69 1400.46 505.28C1402.46 501.87 1404.47 498.47 1406.48 495.07C1408.49 491.67 1410.50 488.28 1412.50 484.90C1414.51 481.52 1416.52 478.16 1418.53 474.80C1420.54 471.45 1422.55 468.11 1424.55 464.79C1426.56 461.48 1428.57 458.18 1430.58 454.90C1432.59 451.62 1434.60 448.37 1436.60 445.15C1438.61 441.92 1440.62 438.72 1442.63 435.56C1444.64 432.39 1446.64 429.26 1448.65 426.16C1450.66 423.05 1452.67 419.99 1454.68 416.96C1456.69 413.92 1458.69 410.92 1460.70 407.96C1462.71 404.99 1464.72 402.06 1466.73 399.17C1468.73 396.27 1470.74 393.41 1472.75 390.58C1474.76 387.75 1476.77 384.95 1478.78 382.19C1480.78 379.42 1482.79 376.70 1484.80 374.00C1486.81 371.30 1488.82 368.64 1490.82 366.01C1492.83 363.39 1494.84 360.79 1496.85 358.23C1498.86 355.67 1500.87 353.14 1502.87 350.64C1504.88 348.15 1506.89 345.69 1508.90 343.26C1510.91 340.83 1512.91 338.43 1514.92 336.07C1516.93 333.71 1518.94 331.38 1520.95 329.08C1522.96 326.79 1524.96 324.52 1526.97 322.29C1528.98 320.06 1530.99 317.87 1533.00 315.70C1535.00 313.54 1537.01 311.41 1539.02 309.31C1541.03 307.21 1543.04 305.14 1545.05 303.11C1547.05 301.08 1549.06 299.08 1551.07 297.11C1553.08 295.14 1555.09 293.21 1557.10 291.30C1559.10 289.40 1561.11 287.53 1563.12 285.69C1565.13 283.86 1567.14 282.05 1569.14 280.28C1571.15 278.51 1573.16 276.77 1575.17 275.06C1577.18 273.35 1579.19 271.68 1581.19 270.03C1583.20 268.39 1585.21 266.78 1587.22 265.20C1589.23 263.62 1591.23 262.07 1593.24 260.56C1595.25 259.04 1597.26 257.56 1599.27 256.11C1601.28 254.66 1603.28 253.24 1605.29 251.86C1607.30 250.47 1609.31 249.12 1611.32 247.79C1613.32 246.47 1615.33 245.18 1617.34 243.92C1619.35 242.66 1621.36 241.44 1623.37 240.24C1625.37 239.05 1627.38 237.88 1629.39 236.75C1631.40 235.62 1633.41 234.52 1635.41 233.45C1637.42 232.38 1639.43 231.34 1641.44 230.34C1643.45 229.33 1645.46 228.36 1647.46 227.41C1649.47 226.47 1651.48 225.56 1653.49 224.68C1655.50 223.80 1657.50 222.95 1659.51 222.13C1661.52 221.31 1663.53 220.53 1665.54 219.77C1667.55 219.02 1669.55 218.29 1671.56 217.60C1673.57 216.91 1675.58 216.24 1677.59 215.61C1679.60 214.98 1681.60 214.38 1683.61 213.81C1685.62 213.24 1687.63 212.70 1689.64 212.19C1691.64 211.68 1693.65 211.20 1695.66 210.75C1697.67 210.30 1699.68 209.87 1701.69 209.47C1703.69 209.08 1705.70 208.70 1707.71 208.36C1709.72 208.01 1711.73 207.69 1713.73 207.40C1715.74 207.10 1717.75 206.83 1719.76 206.58C1721.77 206.33 1723.78 206.11 1725.78 205.90C1727.79 205.70 1729.80 205.52 1731.81 205.36C1733.82 205.20 1735.82 205.06 1737.83 204.94C1739.84 204.82 1741.85 204.72 1743.86 204.64C1745.87 204.56 1747.87 204.50 1749.88 204.45C1751.89 204.41 1753.90 204.38 1755.91 204.37C1757.91 204.36 1759.92 204.36 1761.93 204.38C1763.94 204.40 1765.95 204.44 1767.96 204.49C1769.96 204.53 1771.97 204.60 1773.98 204.67C1775.99 204.75 1778.00 204.83 1780.00 204.93C1782.01 205.03 1784.02 205.14 1786.03 205.27C1788.04 205.39 1790.05 205.52 1792.05 205.66C1794.06 205.80 1796.07 205.95 1798.08 206.11C1800.09 206.27 1802.10 206.43 1804.10 206.61C1806.11 206.78 1808.12 206.96 1810.13 207.15C1812.14 207.33 1814.14 207.52 1816.15 207.72C1818.16 207.91 1820.17 208.11 1822.18 208.32C1824.19 208.52 1826.19 208.73 1828.20 208.94C1830.21 209.15 1832.22 209.36 1834.23 209.57C1836.23 209.78 1838.24 210.00 1840.25 210.21C1842.26 210.42 1844.27 210.63 1846.28 210.85C1848.28 211.06 1850.29 211.27 1852.30 211.47" fill="none" stroke="#42a5f5" stroke-width="2.6"/>
<circle cx="1823.4" cy="186.4" r="23.3" fill="#6c96da"/>
<rect x="1815" y="184.8" width="16" height="1.6" fill="#e6eefa"/>
<text x="172" y="1013.8" text-anchor="end" font-size="16" fill="#d4d4d4" letter-spacing="0.55">2,000</text>
<text x="172" y="957.0" text-anchor="end" font-size="16" fill="#d4d4d4" letter-spacing="0.55">4,000</text>
<text x="172" y="900.3" text-anchor="end" font-size="16" fill="#d4d4d4" letter-spacing="0.55">6,000</text>
<text x="172" y="843.6" text-anchor="end" font-size="16" fill="#d4d4d4" letter-spacing="0.55">8,000</text>
<text x="172" y="786.9" text-anchor="end" font-size="16" fill="#d4d4d4" letter-spacing="0.55">10,000</text>
<text x="172" y="730.1" text-anchor="end" font-size="16" fill="#d4d4d4" letter-spacing="0.55">12,000</text>
<text x="172" y="673.4" text-anchor="end" font-size="16" fill="#d4d4d4" letter-spacing="0.55">14,000</text>
<text x="172" y="616.7" text-anchor="end" font-size="16" fill="#d4d4d4" letter-spacing="0.55">16,000</text>
<text x="172" y="559.9" text-anchor="end" font-size="16" fill="#d4d4d4" letter-spacing="0.55">18,000</text>
<text x="172" y="503.2" text-anchor="end" font-size="16" fill="#d4d4d4" letter-spacing="0.55">20,000</text>
<text x="172" y="446.5" text-anchor="end" font-size="16" fill="#d4d4d4" letter-spacing="0.55">22,000</text>
<text x="172" y="389.7" text-anchor="end" font-size="16" fill="#d4d4d4" letter-spacing="0.55">24,000</text>
<text x="172" y="333.0" text-anchor="end" font-size="16" fill="#d4d4d4" letter-spacing="0.55">26,000</text>
<text x="172" y="276.3" text-anchor="end" font-size="16" fill="#d4d4d4" letter-spacing="0.55">28,000</text>
<text x="172" y="219.6" text-anchor="end" font-size="16" fill="#d4d4d4" letter-spacing="0.55">30,000</text>
<text x="172" y="162.8" text-anchor="end" font-size="16" fill="#d4d4d4" letter-spacing="0.55">32,000</text>
<text x="1867" y="979.7" font-size="16" fill="#d4d4d4" letter-spacing="0.3">2</text>
<text x="1867" y="888.9" font-size="16" fill="#d4d4d4" letter-spacing="0.3">4</text>
<text x="1867" y="798.2" font-size="16" fill="#d4d4d4" letter-spacing="0.3">6</text>
<text x="1867" y="707.4" font-size="16" fill="#d4d4d4" letter-spacing="0.3">8</text>
<text x="1867" y="616.6" font-size="16" fill="#d4d4d4" letter-spacing="0.3">10</text>
<text x="1867" y="525.8" font-size="16" fill="#d4d4d4" letter-spacing="0.3">12</text>
<text x="1867" y="435.0" font-size="16" fill="#d4d4d4" letter-spacing="0.3">14</text>
<text x="1867" y="344.3" font-size="16" fill="#d4d4d4" letter-spacing="0.3">16</text>
<text x="1867" y="253.5" font-size="16" fill="#d4d4d4" letter-spacing="0.3">18</text>
<text x="1867" y="162.7" font-size="16" fill="#d4d4d4" letter-spacing="0.3">20</text>
<text x="288" y="1095" text-anchor="middle" font-size="16" fill="#d4d4d4" letter-spacing="1.1">2019/03</text>
<text x="472" y="1095" text-anchor="middle" font-size="16" fill="#d4d4d4" letter-spacing="1.1">2019/04</text>
<text x="657" y="1095" text-anchor="middle" font-size="16" fill="#d4d4d4" letter-spacing="1.1">2019/05</text>
<text x="841" y="1095" text-anchor="middle" font-size="16" fill="#d4d4d4" letter-spacing="1.1">2019/06</text>
<text x="1025" y="1095" text-anchor="middle" font-size="16" fill="#d4d4d4" letter-spacing="1.1">2019/07</text>
<text x="1213" y="1095" text-anchor="middle" font-size="16" fill="#d4d4d4" letter-spacing="1.1">2019/08</text>
<text x="1398" y="1095" text-anchor="middle" font-size="16" fill="#d4d4d4" letter-spacing="1.1">2019/09</text>
<text x="1582" y="1095" text-anchor="middle" font-size="16" fill="#d4d4d4" letter-spacing="1.1">2019/10</text>
<text x="1767" y="1095" text-anchor="middle" font-size="16" fill="#d4d4d4" letter-spacing="1.1">2019/11</text>
<rect x="458" y="1119.3" width="1244" height="41.2" fill="#f2f2f2"/>
<rect x="186" y="1119" width="268" height="42" fill="#fcfcfc"/>
<rect x="1703" y="1119" width="150.500" height="42" fill="#fcfcfc"/>
<path d="M186 1118.800H453.500M186 1161.200H453.500M1703 1118.800H1853.600V1161.200H1703" fill="none" stroke="#e3e3e3" stroke-width="1"/>
<path d="M191.700 1119V1161M1847 1119V1161" fill="none" stroke="#f3f3f3" stroke-width="1"/>
<line x1="735" x2="735" y1="1119.500" y2="1160.500" stroke="#dcdcdc" stroke-width="1.3"/>
<line x1="1012" x2="1012" y1="1119.500" y2="1160.500" stroke="#dcdcdc" stroke-width="1.3"/>
<line x1="1293" x2="1293" y1="1119.500" y2="1160.500" stroke="#dcdcdc" stroke-width="1.3"/>
<line x1="1570" x2="1570" y1="1119.500" y2="1160.500" stroke="#dcdcdc" stroke-width="1.3"/>
<circle cx="453.8" cy="1139.700" r="18.700" fill="#fff" stroke="#e0e0e0" stroke-width="1.5"/>
<path d="M450.9 1132v15M456.7 1132v15" stroke="#d8d8d8" stroke-width="1.2"/>
<circle cx="1703.0" cy="1139.700" r="18.700" fill="#fff" stroke="#e0e0e0" stroke-width="1.5"/>
<path d="M1700.1 1132v15M1705.9 1132v15" stroke="#d8d8d8" stroke-width="1.2"/>
<text x="258" y="1185" text-anchor="middle" font-size="16" fill="#d4d4d4" letter-spacing="1.1">2019/01</text>
<text x="529" y="1185" text-anchor="middle" font-size="16" fill="#d4d4d4" letter-spacing="1.1">2019/03</text>
<text x="805" y="1185" text-anchor="middle" font-size="16" fill="#d4d4d4" letter-spacing="1.1">2019/05</text>
<text x="1082" y="1185" text-anchor="middle" font-size="16" fill="#d4d4d4" letter-spacing="1.1">2019/07</text>
<text x="1363" y="1185" text-anchor="middle" font-size="16" fill="#d4d4d4" letter-spacing="1.1">2019/09</text>
<text x="1639" y="1185" text-anchor="middle" font-size="16" fill="#d4d4d4" letter-spacing="1.1">2019/11</text>
</svg>
<div id="bottom"></div>
<div class="leg" style="left:117px;top:1233px">
<svg style="left:19px;top:13px" width="10" height="24" viewBox="0 0 10 24"><rect x="1.3" y="1.0" width="2.1" height="2.1" fill="#0a84ff"/><rect x="1.3" y="5.5" width="2.1" height="2.1" fill="#0a84ff"/><rect x="1.3" y="10.0" width="2.1" height="2.1" fill="#0a84ff"/><rect x="1.3" y="14.5" width="2.1" height="2.1" fill="#0a84ff"/><rect x="1.3" y="19.0" width="2.1" height="2.1" fill="#0a84ff"/><rect x="5.8" y="1.0" width="2.1" height="2.1" fill="#0a84ff"/><rect x="5.8" y="5.5" width="2.1" height="2.1" fill="#0a84ff"/><rect x="5.8" y="10.0" width="2.1" height="2.1" fill="#0a84ff"/><rect x="5.8" y="14.5" width="2.1" height="2.1" fill="#0a84ff"/><rect x="5.8" y="19.0" width="2.1" height="2.1" fill="#0a84ff"/></svg>
<div class="sw" style="background:#e91e63"></div>
<svg style="left:84.600px;top:22.800px" width="11" height="6" viewBox="0 0 11 6"><path d="M0 0H10.900L5.450 5.900z" fill="#111"/></svg>
<div class="lab" style="letter-spacing:-0.40px">Consumption - History</div>
<svg style="left:650px;top:0" width="220" height="50" viewBox="650 0 220 50"><path d="M659.00 15.600V34.500H680.10" fill="none" stroke="#2196f3" stroke-width="2"/><path d="M659.90 34.200L666.60 22.600L673.75 28L679.10 18.700" fill="none" stroke="#2196f3" stroke-width="1.900"/><path d="M701.75 15.600V34.500H722.85" fill="none" stroke="#2196f3" stroke-width="2"/><path d="M702.65 34.200L709.35 22.600L716.50 28L721.85 18.700" fill="none" stroke="#2196f3" stroke-width="1.900"/><path d="M745.250 16.900V34.600" fill="none" stroke="#2196f3" stroke-width="2.200"/><path d="M764.100 25.800H749.500M754.500 21.900L749.300 25.800L754.500 29.700" fill="none" stroke="#2196f3" stroke-width="2"/><circle cx="839.750" cy="18.95" r="2.250" fill="#2196f3"/><circle cx="839.750" cy="25.70" r="2.250" fill="#2196f3"/><circle cx="839.750" cy="32.35" r="2.250" fill="#2196f3"/></svg>
<svg style="left:783.600px;top:12.500px" width="26.600" height="26.600" viewBox="0 0 24 24"><path d="M12 4.500C7 4.500 2.730 7.610 1 12c1.730 4.390 6 7.500 11 7.500s9.270-3.110 11-7.500c-1.730-4.390-6-7.500-11-7.500zM12 17c-2.760 0-5-2.240-5-5s2.240-5 5-5 5 2.240 5 5-2.240 5-5 5zm0-8c-1.660 0-3 1.340-3 3s1.340 3 3 3 3-1.340 3-3-1.340-3-3-3z" fill="#2196f3"/></svg>
</div>
<div class="leg" style="left:117px;top:1297px">
<svg style="left:19px;top:13px" width="10" height="24" viewBox="0 0 10 24"><rect x="1.3" y="1.0" width="2.1" height="2.1" fill="#0a84ff"/><rect x="1.3" y="5.5" width="2.1" height="2.1" fill="#0a84ff"/><rect x="1.3" y="10.0" width="2.1" height="2.1" fill="#0a84ff"/><rect x="1.3" y="14.5" width="2.1" height="2.1" fill="#0a84ff"/><rect x="1.3" y="19.0" width="2.1" height="2.1" fill="#0a84ff"/><rect x="5.8" y="1.0" width="2.1" height="2.1" fill="#0a84ff"/><rect x="5.8" y="5.5" width="2.1" height="2.1" fill="#0a84ff"/><rect x="5.8" y="10.0" width="2.1" height="2.1" fill="#0a84ff"/><rect x="5.8" y="14.5" width="2.1" height="2.1" fill="#0a84ff"/><rect x="5.8" y="19.0" width="2.1" height="2.1" fill="#0a84ff"/></svg>
<div class="sw" style="background:#4caf50"></div>
<svg style="left:84.600px;top:22.800px" width="11" height="6" viewBox="0 0 11 6"><path d="M0 0H10.900L5.450 5.900z" fill="#111"/></svg>
<div class="lab" style="letter-spacing:-0.40px">Consumption - Pessimistic scenario</div>
<svg style="left:650px;top:0" width="220" height="50" viewBox="650 0 220 50"><path d="M659.00 15.600V34.500H680.10" fill="none" stroke="#2196f3" stroke-width="2"/><path d="M659.90 34.200L666.60 22.600L673.75 28L679.10 18.700" fill="none" stroke="#2196f3" stroke-width="1.900"/><path d="M701.75 15.600V34.500H722.85" fill="none" stroke="#2196f3" stroke-width="2"/><path d="M702.65 34.200L709.35 22.600L716.50 28L721.85 18.700" fill="none" stroke="#2196f3" stroke-width="1.900"/><path d="M745.250 16.900V34.600" fill="none" stroke="#2196f3" stroke-width="2.200"/><path d="M764.100 25.800H749.500M754.500 21.900L749.300 25.800L754.500 29.700" fill="none" stroke="#2196f3" stroke-width="2"/><circle cx="839.750" cy="18.95" r="2.250" fill="#2196f3"/><circle cx="839.750" cy="25.70" r="2.250" fill="#2196f3"/><circle cx="839.750" cy="32.35" r="2.250" fill="#2196f3"/></svg>
<svg style="left:783.600px;top:12.500px" width="26.600" height="26.600" viewBox="0 0 24 24"><path d="M12 4.500C7 4.500 2.730 7.610 1 12c1.730 4.390 6 7.500 11 7.500s9.270-3.110 11-7.500c-1.730-4.390-6-7.500-11-7.500zM12 17c-2.760 0-5-2.240-5-5s2.240-5 5-5 5 2.240 5 5-2.240 5-5 5zm0-8c-1.660 0-3 1.340-3 3s1.340 3 3 3 3-1.340 3-3-1.340-3-3-3z" fill="#2196f3"/></svg>
</div>
<div class="leg" style="left:117px;top:1361px">
<svg style="left:19px;top:13px" width="10" height="24" viewBox="0 0 10 24"><rect x="1.3" y="1.0" width="2.1" height="2.1" fill="#0a84ff"/><rect x="1.3" y="5.5" width="2.1" height="2.1" fill="#0a84ff"/><rect x="1.3" y="10.0" width="2.1" height="2.1" fill="#0a84ff"/><rect x="1.3" y="14.5" width="2.1" height="2.1" fill="#0a84ff"/><rect x="1.3" y="19.0" width="2.1" height="2.1" fill="#0a84ff"/><rect x="5.8" y="1.0" width="2.1" height="2.1" fill="#0a84ff"/><rect x="5.8" y="5.5" width="2.1" height="2.1" fill="#0a84ff"/><rect x="5.8" y="10.0" width="2.1" height="2.1" fill="#0a84ff"/><rect x="5.8" y="14.5" width="2.1" height="2.1" fill="#0a84ff"/><rect x="5.8" y="19.0" width="2.1" height="2.1" fill="#0a84ff"/></svg>
<div class="sw" style="background:#3949ab"></div>
<svg style="left:84.600px;top:22.800px" width="11" height="6" viewBox="0 0 11 6"><path d="M0 0H10.900L5.450 5.900z" fill="#111"/></svg>
<div class="lab" style="letter-spacing:-0.05px">Temperature</div>
<svg style="left:650px;top:0" width="220" height="50" viewBox="650 0 220 50"><path d="M659.00 15.600V34.500H680.10" fill="none" stroke="#2196f3" stroke-width="2"/><path d="M659.90 34.200L666.60 22.600L673.75 28L679.10 18.700" fill="none" stroke="#2196f3" stroke-width="1.900"/><path d="M701.75 15.600V34.500H722.85" fill="none" stroke="#2196f3" stroke-width="2"/><path d="M702.65 34.200L709.35 22.600L716.50 28L721.85 18.700" fill="none" stroke="#2196f3" stroke-width="1.900"/><path d="M763.100 16.900V34.600" fill="none" stroke="#2196f3" stroke-width="2.200"/><path d="M744.100 25.800H759.300M754.300 21.900L759.500 25.800L754.300 29.700" fill="none" stroke="#2196f3" stroke-width="2"/><circle cx="839.750" cy="18.95" r="2.250" fill="#2196f3"/><circle cx="839.750" cy="25.70" r="2.250" fill="#2196f3"/><circle cx="839.750" cy="32.35" r="2.250" fill="#2196f3"/></svg>
<svg style="left:783.600px;top:12.500px" width="26.600" height="26.600" viewBox="0 0 24 24"><path d="M12 4.500C7 4.500 2.730 7.610 1 12c1.730 4.390 6 7.500 11 7.500s9.270-3.110 11-7.500c-1.730-4.390-6-7.500-11-7.500zM12 17c-2.760 0-5-2.240-5-5s2.240-5 5-5 5 2.240 5 5-2.240 5-5 5zm0-8c-1.660 0-3 1.340-3 3s1.340 3 3 3 3-1.340 3-3-1.340-3-3-3z" fill="#2196f3"/></svg>
</div>
<div class="leg" style="left:1013px;top:1233px">
<svg style="left:19px;top:13px" width="10" height="24" viewBox="0 0 10 24"><rect x="1.3" y="1.0" width="2.1" height="2.1" fill="#0a84ff"/><rect x="1.3" y="5.5" width="2.1" height="2.1" fill="#0a84ff"/><rect x="1.3" y="10.0" width="2.1" height="2.1" fill="#0a84ff"/><rect x="1.3" y="14.5" width="2.1" height="2.1" fill="#0a84ff"/><rect x="1.3" y="19.0" width="2.1" height="2.1" fill="#0a84ff"/><rect x="5.8" y="1.0" width="2.1" height="2.1" fill="#0a84ff"/><rect x="5.8" y="5.5" width="2.1" height="2.1" fill="#0a84ff"/><rect x="5.8" y="10.0" width="2.1" height="2.1" fill="#0a84ff"/><rect x="5.8" y="14.5" width="2.1" height="2.1" fill="#0a84ff"/><rect x="5.8" y="19.0" width="2.1" height="2.1" fill="#0a84ff"/></svg>
<div class="sw" style="background:#e91e63"></div>
<svg style="left:84.600px;top:22.800px" width="11" height="6" viewBox="0 0 11 6"><path d="M0 0H10.900L5.450 5.900z" fill="#111"/></svg>
<div class="lab" style="letter-spacing:-0.32px">Consumption - Normal</div>
<svg style="left:650px;top:0" width="220" height="50" viewBox="650 0 220 50"><path d="M659.00 15.600V34.500H680.10" fill="none" stroke="#2196f3" stroke-width="2"/><path d="M659.90 34.200L666.60 22.600L673.75 28L679.10 18.700" fill="none" stroke="#2196f3" stroke-width="1.900"/><path d="M701.75 15.600V34.500H722.85" fill="none" stroke="#2196f3" stroke-width="2"/><path d="M702.65 34.200L709.35 22.600L716.50 28L721.85 18.700" fill="none" stroke="#2196f3" stroke-width="1.900"/><path d="M745.250 16.900V34.600" fill="none" stroke="#2196f3" stroke-width="2.200"/><path d="M764.100 25.800H749.500M754.500 21.900L749.300 25.800L754.500 29.700" fill="none" stroke="#2196f3" stroke-width="2"/><circle cx="839.750" cy="18.95" r="2.250" fill="#2196f3"/><circle cx="839.750" cy="25.70" r="2.250" fill="#2196f3"/><circle cx="839.750" cy="32.35" r="2.250" fill="#2196f3"/></svg>
<svg style="left:783.600px;top:12.500px" width="26.600" height="26.600" viewBox="0 0 24 24"><path d="M12 4.500C7 4.500 2.730 7.610 1 12c1.730 4.390 6 7.500 11 7.500s9.270-3.110 11-7.500c-1.730-4.390-6-7.500-11-7.500zM12 17c-2.760 0-5-2.240-5-5s2.240-5 5-5 5 2.240 5 5-2.240 5-5 5zm0-8c-1.660 0-3 1.340-3 3s1.340 3 3 3 3-1.340 3-3-1.340-3-3-3z" fill="#2196f3"/></svg>
</div>
<div class="leg" style="left:1013px;top:1297px">
<svg style="left:19px;top:13px" width="10" height="24" viewBox="0 0 10 24"><rect x="1.3" y="1.0" width="2.1" height="2.1" fill="#0a84ff"/><rect x="1.3" y="5.5" width="2.1" height="2.1" fill="#0a84ff"/><rect x="1.3" y="10.0" width="2.1" height="2.1" fill="#0a84ff"/><rect x="1.3" y="14.5" width="2.1" height="2.1" fill="#0a84ff"/><rect x="1.3" y="19.0" width="2.1" height="2.1" fill="#0a84ff"/><rect x="5.8" y="1.0" width="2.1" height="2.1" fill="#0a84ff"/><rect x="5.8" y="5.5" width="2.1" height="2.1" fill="#0a84ff"/><rect x="5.8" y="10.0" width="2.1" height="2.1" fill="#0a84ff"/><rect x="5.8" y="14.5" width="2.1" height="2.1" fill="#0a84ff"/><rect x="5.8" y="19.0" width="2.1" height="2.1" fill="#0a84ff"/></svg>
<div class="sw" style="background:#42a5f5"></div>
<svg style="left:84.600px;top:22.800px" width="11" height="6" viewBox="0 0 11 6"><path d="M0 0H10.900L5.450 5.900z" fill="#111"/></svg>
<div class="lab" style="letter-spacing:-0.38px">Consumption - Optimistic scenario</div>
<svg style="left:650px;top:0" width="220" height="50" viewBox="650 0 220 50"><path d="M659.00 15.600V34.500H680.10" fill="none" stroke="#2196f3" stroke-width="2"/><path d="M659.90 34.200L666.60 22.600L673.75 28L679.10 18.700" fill="none" stroke="#2196f3" stroke-width="1.900"/><path d="M701.75 15.600V34.500H722.85" fill="none" stroke="#2196f3" stroke-width="2"/><path d="M702.65 34.200L709.35 22.600L716.50 28L721.85 18.700" fill="none" stroke="#2196f3" stroke-width="1.900"/><path d="M745.250 16.900V34.600" fill="none" stroke="#2196f3" stroke-width="2.200"/><path d="M764.100 25.800H749.500M754.500 21.900L749.300 25.800L754.500 29.700" fill="none" stroke="#2196f3" stroke-width="2"/><circle cx="839.750" cy="18.95" r="2.250" fill="#2196f3"/><circle cx="839.750" cy="25.70" r="2.250" fill="#2196f3"/><circle cx="839.750" cy="32.35" r="2.250" fill="#2196f3"/></svg>
<svg style="left:783.600px;top:12.500px" width="26.600" height="26.600" viewBox="0 0 24 24"><path d="M12 4.500C7 4.500 2.730 7.610 1 12c1.730 4.390 6 7.500 11 7.500s9.270-3.110 11-7.500c-1.730-4.390-6-7.500-11-7.500zM12 17c-2.760 0-5-2.240-5-5s2.240-5 5-5 5 2.240 5 5-2.240 5-5 5zm0-8c-1.660 0-3 1.340-3 3s1.340 3 3 3 3-1.340 3-3-1.340-3-3-3z" fill="#2196f3"/></svg>
</div>
<svg style="left:1013px;top:1361px" width="875" height="54" viewBox="0 0 875 54"><rect x="1" y="1" width="873" height="52" rx="5.500" fill="none" stroke="#b0b0b0" stroke-width="1.800" stroke-dasharray="3.900 2.770"/></svg>
<svg style="left:1237px;top:1380px" width="20" height="18" viewBox="0 0 20 18"><path d="M12 1l7 6.500-7 6.500v-4C7 10 3.500 11.500 1 15.500 2 10 5 5.500 12 4.800z" fill="#9e9e9e"/></svg>
<div class="t" style="left:1269px;top:1380.300px;font-size:19.500px;color:#9e9e9e;letter-spacing:.33px">Drag and drop new time serie from menubar</div>
</body></html>
